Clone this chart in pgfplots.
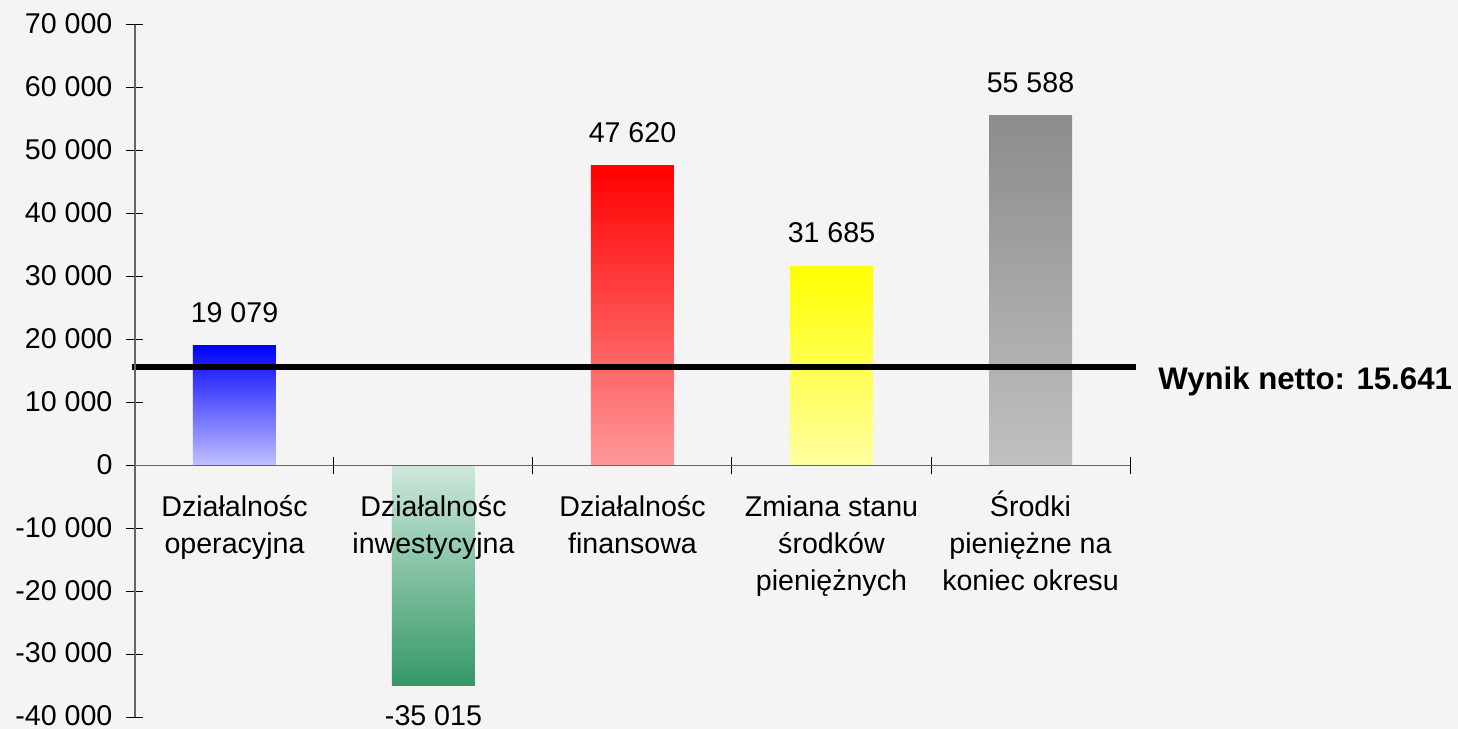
\documentclass[border=0pt]{standalone}
\usepackage{fontspec}
\setmainfont{Liberation Sans}
\usepackage{pgfplots}
\pgfplotsset{compat=1.18}
\definecolor{bg}{HTML}{F4F4F4}
\definecolor{bluetop}{HTML}{0000FF}
\definecolor{bluebot}{HTML}{C0C0FF}
\definecolor{greentop}{HTML}{CDE8DB}
\definecolor{greenbot}{HTML}{339966}
\definecolor{redtop}{HTML}{FF0000}
\definecolor{redbot}{HTML}{FF9999}
\definecolor{yeltop}{HTML}{FFFF00}
\definecolor{yelbot}{HTML}{FFFFA0}
\definecolor{graytop}{HTML}{8C8C8C}
\definecolor{graybot}{HTML}{C0C0C0}
\newcommand{\fl}{\vphantom{Ś}}
\begin{document}
\begin{tikzpicture}
\fill[bg] (-67.5pt,-6pt) rectangle (661.5pt,358.5pt);
\begin{axis}[
  at={(0,0)}, anchor=south west,
  scale only axis, width=497.5pt, height=346pt,
  xmin=-0.5, xmax=4.5, ymin=-40000, ymax=70000,
  axis on top,
  axis y line=left, axis x line=middle,
  axis line style={draw=black!60, line width=0.65pt, -},
  hide obscured x ticks=false, hide obscured y ticks=false,
  ytick={-40000,-30000,...,70000},
  yticklabel style={xshift=-3.5pt, yshift=0.5pt},
  xtick={-0.5,0.5,1.5,2.5,3.5,4.5}, xticklabels={},
  extra x ticks={0,1,2,3,4},
  extra x tick labels={{\fl Działalnośc\\operacyjna},{\fl Działalnośc\\inwestycyjna},{\fl Działalnośc\\finansowa},{\fl Zmiana stanu\\środków\\pieniężnych},{\fl Środki\\pieniężne na\\koniec okresu}},
  extra x tick style={major tick length=0pt, xticklabel style={align=center, anchor=north, inner sep=0pt, yshift=-12.5pt}},
  tick align=center, major tick length=8.5pt,
  tick style={black, line width=0.5pt},
  scaled y ticks=false,
  ticklabel style={font=\fontsize{14.3}{18.5}\selectfont},
  clip=false,
  /pgf/number format/1000 sep={\ },
  /pgf/number format/assume math mode=true,
]
\addplot[ybar, bar width=41.5pt, bar shift=0pt, draw=none, top color=bluetop, bottom color=bluebot,
  nodes near coords, nodes near coords style={font=\fontsize{14.3}{17}\selectfont, text=black, inner ysep=11.3pt}]
  coordinates {(0,19079)};
\addplot[ybar, bar width=41.5pt, bar shift=0pt, draw=none, top color=greentop, bottom color=greenbot,
  nodes near coords, nodes near coords style={font=\fontsize{14.3}{17}\selectfont, text=black, inner ysep=9.5pt}]
  coordinates {(1,-35015)};
\addplot[ybar, bar width=41.5pt, bar shift=0pt, draw=none, top color=redtop, bottom color=redbot,
  nodes near coords, nodes near coords style={font=\fontsize{14.3}{17}\selectfont, text=black, inner ysep=11.3pt}]
  coordinates {(2,47620)};
\addplot[ybar, bar width=41.5pt, bar shift=0pt, draw=none, top color=yeltop, bottom color=yelbot,
  nodes near coords, nodes near coords style={font=\fontsize{14.3}{17}\selectfont, text=black, inner ysep=11.3pt}]
  coordinates {(3,31685)};
\addplot[ybar, bar width=41.5pt, bar shift=0pt, draw=none, top color=graytop, bottom color=graybot,
  nodes near coords, nodes near coords style={font=\fontsize{14.3}{17}\selectfont, text=black, inner ysep=11.3pt}]
  coordinates {(4,55588)};
\addplot[sharp plot, black, line width=3.3pt, mark=none] coordinates {(-0.515,15641) (4.53,15641)};
\node[anchor=base west, font=\bfseries\fontsize{15.6}{19}\selectfont, xshift=11pt, yshift=-11.4pt, inner sep=0pt] at (axis cs:4.53,15641) {Wynik netto: 15.641};
\end{axis}
\pgfresetboundingbox
\path (-67.5pt,-6pt) rectangle (661.5pt,358.5pt);
\end{tikzpicture}
\end{document}
